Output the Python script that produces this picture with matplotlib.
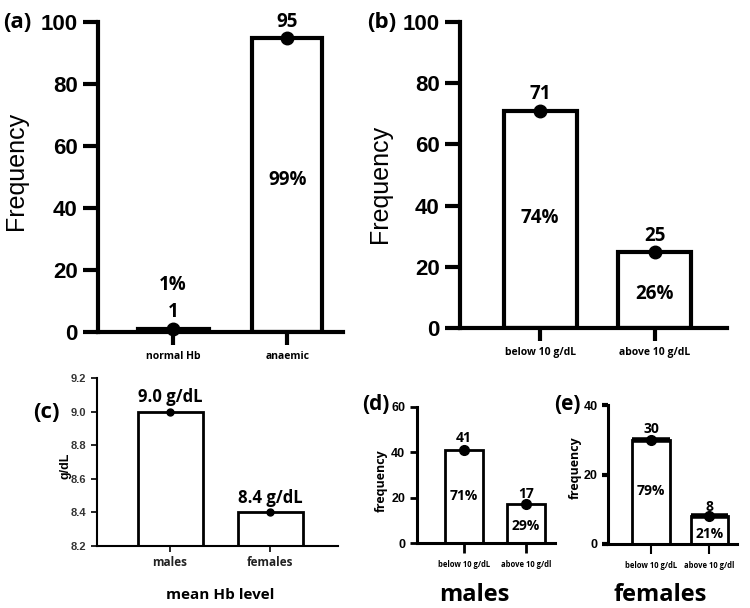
import numpy as np
import matplotlib
matplotlib.use("Agg")
import matplotlib.pyplot as plt

# datos de cada panel
cats_a = ["normal Hb", "anaemic"]
vals_a = [1, 95]
pct_a = ["1%", "99%"]

cats_b = ["below 10 g/dL", "above 10 g/dL"]
vals_b = [71, 25]
pct_b = ["74%", "26%"]

cats_c = ["males", "females"]
vals_c = [9.0, 8.4]
lbl_c = ["9.0 g/dL", "8.4 g/dL"]

cats_d = ["below 10 g/dL", "above 10 g/dl"]
vals_d = [41, 17]
pct_d = ["71%", "29%"]

cats_e = ["below 10 g/dL", "above 10 g/dl"]
vals_e = [30, 8]
pct_e = ["79%", "21%"]

ARIAL = "Liberation Sans"
CAL = "Open Sans"

W, H = 750, 608
fig = plt.figure(figsize=(7.5, 6.08), dpi=100)


def make_ax(left, right, bottom_px, top_px):
    return fig.add_axes([left / W, 1 - bottom_px / H, (right - left) / W, (bottom_px - top_px) / H])


def style(ax, lw, ticklen, tickw):
    for s in ["top", "right"]:
        ax.spines[s].set_visible(False)
    for s in ["left", "bottom"]:
        ax.spines[s].set_linewidth(lw)
    ax.tick_params(length=ticklen, width=tickw, direction="out")


def bars(ax, vals, width, lw, ms):
    x = np.arange(len(vals))
    ax.bar(x, vals, width=width, color="white", edgecolor="black", linewidth=lw, zorder=2)
    ax.plot(x, vals, "o", color="black", ms=ms, zorder=4, clip_on=False)
    return x


def note(ax, x, y, s, size):
    ax.text(x, y, s, ha="center", va="center", fontsize=size, fontweight="bold", family=CAL)


# (a) ---------------------------------------------------------
ax = make_ax(98, 343, 332, 22)
x = bars(ax, vals_a, 0.62, 3, 9)
ax.set_ylim(0, 100)
ax.set_xlim(-0.66, 1.49)
ax.set_yticks([0, 20, 40, 60, 80, 100])
ax.set_xticks(x)
ax.set_xticklabels(cats_a, fontsize=7.5, fontweight="bold", family=CAL)
for t in ax.get_yticklabels():
    t.set_fontsize(16); t.set_fontweight("bold"); t.set_family(ARIAL)
style(ax, 3, 11, 3)
ax.tick_params(axis="x", length=9, pad=5)
ax.set_ylabel("Frequency", fontsize=18, family=ARIAL)
ax.yaxis.set_label_coords(-0.285, 0.52)
note(ax, 1, 100, str(vals_a[1]), 13.5)
note(ax, 1, 49, pct_a[1], 13.5)
note(ax, 0, 6.5, str(vals_a[0]), 13.5)
note(ax, 0, 15, pct_a[0], 13.5)
fig.text(3 / W, 1 - 22 / H, "(a)", ha="left", va="center", fontsize=16, fontweight="bold", family=CAL)

# (b) ---------------------------------------------------------
ax = make_ax(460, 727, 328, 22)
x = bars(ax, vals_b, 0.64, 3, 9)
ax.set_ylim(0, 100)
ax.set_xlim(-0.70, 1.63)
ax.set_yticks([0, 20, 40, 60, 80, 100])
ax.set_xticks(x)
ax.set_xticklabels(cats_b, fontsize=7.5, fontweight="bold", family=CAL)
for t in ax.get_yticklabels():
    t.set_fontsize(16); t.set_fontweight("bold"); t.set_family(ARIAL)
style(ax, 3, 11, 3)
ax.tick_params(axis="x", length=9, pad=5)
ax.set_ylabel("Frequency", fontsize=18, family=ARIAL)
ax.yaxis.set_label_coords(-0.255, 0.47)
note(ax, 0, 76.5, str(vals_b[0]), 13.5)
note(ax, 0, 36, pct_b[0], 13.5)
note(ax, 1, 30, str(vals_b[1]), 13.5)
note(ax, 1, 11, pct_b[1], 13.5)
fig.text(367 / W, 1 - 22 / H, "(b)", ha="left", va="center", fontsize=16, fontweight="bold", family=CAL)

# (c) ---------------------------------------------------------
ax = make_ax(97, 338, 546, 378)
x = np.arange(len(vals_c))
ax.bar(x, [v - 8.2 for v in vals_c], bottom=8.2, width=0.65, color="white",
       edgecolor="black", linewidth=2, zorder=2)
ax.plot(x, vals_c, "o", color="black", ms=5, zorder=4)
ax.set_ylim(8.2, 9.2)
ax.set_xlim(-0.73, 1.68)
ax.set_yticks([8.2, 8.4, 8.6, 8.8, 9.0, 9.2])
ax.set_yticklabels(["8.2", "8.4", "8.6", "8.8", "9.0", "9.2"], fontsize=8,
                   fontweight="bold", family=ARIAL, color="#333333")
ax.set_xticks(x)
ax.set_xticklabels(cats_c, fontsize=8.5, fontweight="bold", family=CAL, color="#222222")
style(ax, 1.5, 4, 1.2)
ax.set_ylabel("g/dL", fontsize=9, fontweight="bold", family=ARIAL)
ax.yaxis.set_label_coords(-0.104, 0.48)
for i, t in enumerate(lbl_c):
    note(ax, x[i], vals_c[i] + 0.087, t, 12)
fig.text(33 / W, 1 - 412 / H, "(c)", ha="left", va="center", fontsize=16, fontweight="bold", family=CAL)
fig.text(220 / W, 1 - 595 / H, "mean Hb level", ha="center", va="center", fontsize=11,
         fontweight="bold", family=CAL)

# (d) ---------------------------------------------------------
ax = make_ax(417, 555, 543, 407)
x = bars(ax, vals_d, 0.61, 2, 7)
ax.set_ylim(0, 60)
ax.set_xlim(-0.76, 1.47)
ax.set_yticks([0, 20, 40, 60])
ax.set_xticks(x)
ax.set_xticklabels(cats_d, fontsize=5.5, fontweight="bold", family=CAL)
for t in ax.get_yticklabels():
    t.set_fontsize(9); t.set_fontweight("bold"); t.set_family(ARIAL)
style(ax, 2.2, 5, 2)
ax.tick_params(axis="x", length=7, pad=5)
ax.set_ylabel("frequency", fontsize=9, fontweight="bold", family=CAL)
ax.yaxis.set_label_coords(-0.21, 0.46)
note(ax, 0, 46.3, str(vals_d[0]), 10)
note(ax, 0, 20.7, pct_d[0], 10)
note(ax, 1, 21.6, str(vals_d[1]), 10)
note(ax, 1, 7.5, pct_d[1], 10)
fig.text(362 / W, 1 - 405 / H, "(d)", ha="left", va="center", fontsize=15, fontweight="bold", family=CAL)
fig.text(474 / W, 1 - 595 / H, "males", ha="center", va="center", fontsize=17,
         fontweight="bold", family=CAL)

# (e) ---------------------------------------------------------
ax = make_ax(608, 737, 544, 405)
x = bars(ax, vals_e, 0.64, 2, 7)
for i, v in enumerate(vals_e):
    ax.plot([x[i] - 0.32, x[i] + 0.32], [v, v], color="black", lw=4, zorder=3,
            solid_capstyle="butt")
ax.set_ylim(0, 40)
ax.set_xlim(-0.74, 1.48)
ax.set_yticks([0, 20, 40])
ax.set_xticks(x)
ax.set_xticklabels(cats_e, fontsize=5.5, fontweight="bold", family=CAL)
for t in ax.get_yticklabels():
    t.set_fontsize(9); t.set_fontweight("bold"); t.set_family(ARIAL)
style(ax, 2.2, 4, 3)
ax.tick_params(axis="x", length=7, width=1.5, pad=5)
ax.set_ylabel("frequency", fontsize=9, fontweight="bold", family=CAL)
ax.yaxis.set_label_coords(-0.20, 0.55)
note(ax, 0, 33.1, str(vals_e[0]), 10)
note(ax, 0, 15.3, pct_e[0], 10)
note(ax, 1, 10.6, str(vals_e[1]), 10)
note(ax, 1, 2.9, pct_e[1], 10)
fig.text(554 / W, 1 - 405 / H, "(e)", ha="left", va="center", fontsize=15, fontweight="bold", family=CAL)
fig.text(660 / W, 1 - 595 / H, "females", ha="center", va="center", fontsize=17,
         fontweight="bold", family=CAL)

fig.savefig("out.png", dpi=100)
